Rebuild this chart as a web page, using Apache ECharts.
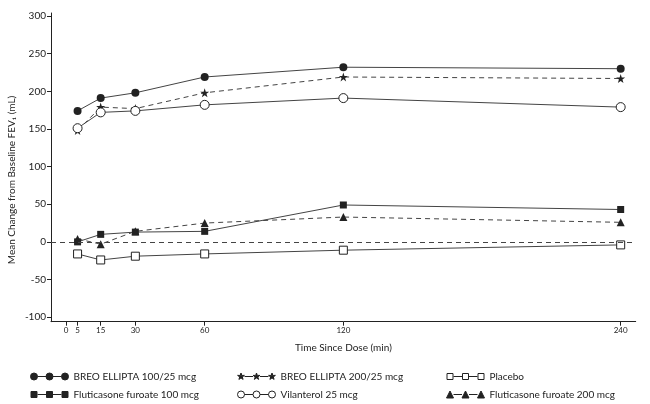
<!DOCTYPE html>
<html>
<head>
<meta charset="utf-8">
<script src="https://cdn.jsdelivr.net/npm/echarts@6/dist/echarts.min.js"></script>
<style>html,body{margin:0;padding:0;background:#fff;}#c{width:650px;height:404px;}</style>
</head>
<body>
<div id="c"></div>
<script>
var times = [5, 15, 30, 60, 120, 240];
var xTicks = [0, 5, 15, 30, 60, 120, 240];
var yTicks = [-100, -50, 0, 50, 100, 150, 200, 250, 300];
var breo100 = [174, 191, 198, 219, 232, 230];
var breo200 = [148, 179, 177, 198, 219, 217];
var placebo = [-16, -24, -19, -16, -11, -4];
var ff100 = [0, 10, 13, 14, 49, 43];
var vilanterol = [151, 172, 174, 182, 191, 179];
var ff200 = [4, -3, 14, 25, 33, 26];

var FONT = "Lato, 'Open Sans', sans-serif";
var INK = '#222';
var LINE = '#444';
var STAR = 'path://M50,0 L61.8,35.5 L99,35.5 L69,57.5 L80.5,93 L50,71 L19.5,93 L31,57.5 L1,35.5 L38.2,35.5 Z';

function pairs(vals) { return times.map(function (t, i) { return [t, vals[i]]; }); }

// legend icons: three markers joined by a line (38 x 7 box)
var lnk = ' M7,3.5 L15.5,3.5 M22.5,3.5 L31,3.5';
var iconCircle = 'path://M0,3.5 a3.5,3.5 0 1,0 7,0 a3.5,3.5 0 1,0 -7,0 M15.5,3.5 a3.5,3.5 0 1,0 7,0 a3.5,3.5 0 1,0 -7,0 M31,3.5 a3.5,3.5 0 1,0 7,0 a3.5,3.5 0 1,0 -7,0' + lnk;
var iconSquare = 'path://M0.5,0.5 L6.5,0.5 L6.5,6.5 L0.5,6.5 Z M16,0.5 L22,0.5 L22,6.5 L16,6.5 Z M31.5,0.5 L37.5,0.5 L37.5,6.5 L31.5,6.5 Z M0,0 M38,7' + lnk;
var iconTri = 'path://M0,7 L3.5,0 L7,7 Z M15.5,7 L19,0 L22.5,7 Z M31,7 L34.5,0 L38,7 Z' + lnk;
function starAt(cx) {
  var p = [[0,-3.5],[0.8,-1.1],[3.4,-1.1],[1.3,0.4],[2.1,2.9],[0,1.4],[-2.1,2.9],[-1.3,0.4],[-3.4,-1.1],[-0.8,-1.1]];
  return 'M' + p.map(function (q) { return (cx + q[0]).toFixed(2) + ',' + (3.5 + q[1]).toFixed(2); }).join(' L') + ' Z';
}
var iconStar = 'path://' + starAt(3.5) + ' ' + starAt(19) + ' ' + starAt(34.5) + ' M0,0 M38,7' + lnk;

function mkSeries(name, vals, symbol, size, filled, dashed, extra) {
  var s = {
    name: name,
    type: 'line',
    data: pairs(vals),
    symbol: symbol,
    symbolSize: size,
    showAllSymbol: true,
    lineStyle: { color: LINE, width: 1, type: dashed ? [5, 4] : 'solid' },
    itemStyle: { color: filled ? INK : '#fff', borderColor: INK, borderWidth: filled ? 0 : 1 },
    emphasis: { disabled: true },
    animation: false,
    z: filled ? 3 : 4
  };
  if (extra) for (var k in extra) s[k] = extra[k];
  return s;
}

var legendText = { fontFamily: FONT, fontSize: 10, color: INK, lineHeight: 12 };
function legItem(name, icon, filled) {
  return { name: name, icon: icon, itemStyle: { color: filled ? INK : '#fff', borderColor: INK, borderWidth: 1 } };
}
function legendCol(left, items) {
  return { orient: 'vertical', left: left, top: 365.5, height: 60, itemWidth: 38, itemHeight: 7, itemGap: 6,
    textStyle: legendText, selectedMode: false, data: items };
}

var chart = echarts.init(document.getElementById('c'), null, { renderer: 'canvas' });
chart.setOption({
  animation: false,
  backgroundColor: '#fff',
  grid: { left: 51, right: 14.3, top: 13, bottom: 82.3, containLabel: false },
  xAxis: {
    type: 'value',
    min: -6.5, max: 246.5,
    name: 'Time Since Dose (min)',
    nameLocation: 'middle',
    nameGap: 21,
    nameTextStyle: { fontFamily: FONT, fontSize: 10, color: INK },
    axisLine: { show: true, onZero: false, lineStyle: { color: INK, width: 1 } },
    axisTick: { show: true, length: 4, lineStyle: { color: INK }, customValues: xTicks },
    axisLabel: { fontFamily: FONT, fontSize: 8, color: INK, margin: 5, customValues: xTicks },
    splitLine: { show: false }
  },
  yAxis: {
    type: 'value',
    min: -106, max: 304,
    axisLine: { show: true, onZero: false, lineStyle: { color: INK, width: 1 } },
    axisTick: { show: true, length: 4, lineStyle: { color: INK }, customValues: yTicks },
    axisLabel: { fontFamily: FONT, fontSize: 10, color: INK, margin: 5, customValues: yTicks },
    splitLine: { show: false }
  },
  graphic: [{
    type: 'text',
    x: 12, y: 180,
    rotation: Math.PI / 2,
    style: { text: 'Mean Change from Baseline FEV\u2081 (mL)', fontFamily: FONT, fontSize: 10, fill: INK, align: 'center', verticalAlign: 'middle' }
  }],
  legend: [
    legendCol(25, [legItem('BREO ELLIPTA 100/25 mcg', iconCircle, true), legItem('Fluticasone furoate 100 mcg', iconSquare, true)]),
    legendCol(232, [legItem('BREO ELLIPTA 200/25 mcg', iconStar, true), legItem('Vilanterol 25 mcg', iconCircle, false)]),
    legendCol(441, [legItem('Placebo', iconSquare, false), legItem('Fluticasone furoate 200 mcg', iconTri, true)])
  ],
  series: [
    mkSeries('Placebo', placebo, 'rect', 8, false, false, {
      markLine: {
        silent: true, symbol: 'none', animation: false,
        label: { show: false },
        emphasis: { disabled: true },
        lineStyle: { color: LINE, width: 1, type: [5, 4] },
        data: [{ yAxis: 0 }]
      }
    }),
    mkSeries('Fluticasone furoate 100 mcg', ff100, 'rect', 7, true, false),
    mkSeries('Fluticasone furoate 200 mcg', ff200, 'triangle', 8, true, true),
    mkSeries('Vilanterol 25 mcg', vilanterol, 'circle', 9, false, false),
    mkSeries('BREO ELLIPTA 200/25 mcg', breo200, STAR, 9, true, true),
    mkSeries('BREO ELLIPTA 100/25 mcg', breo100, 'circle', 8, true, false)
  ]
});
</script>
</body>
</html>
